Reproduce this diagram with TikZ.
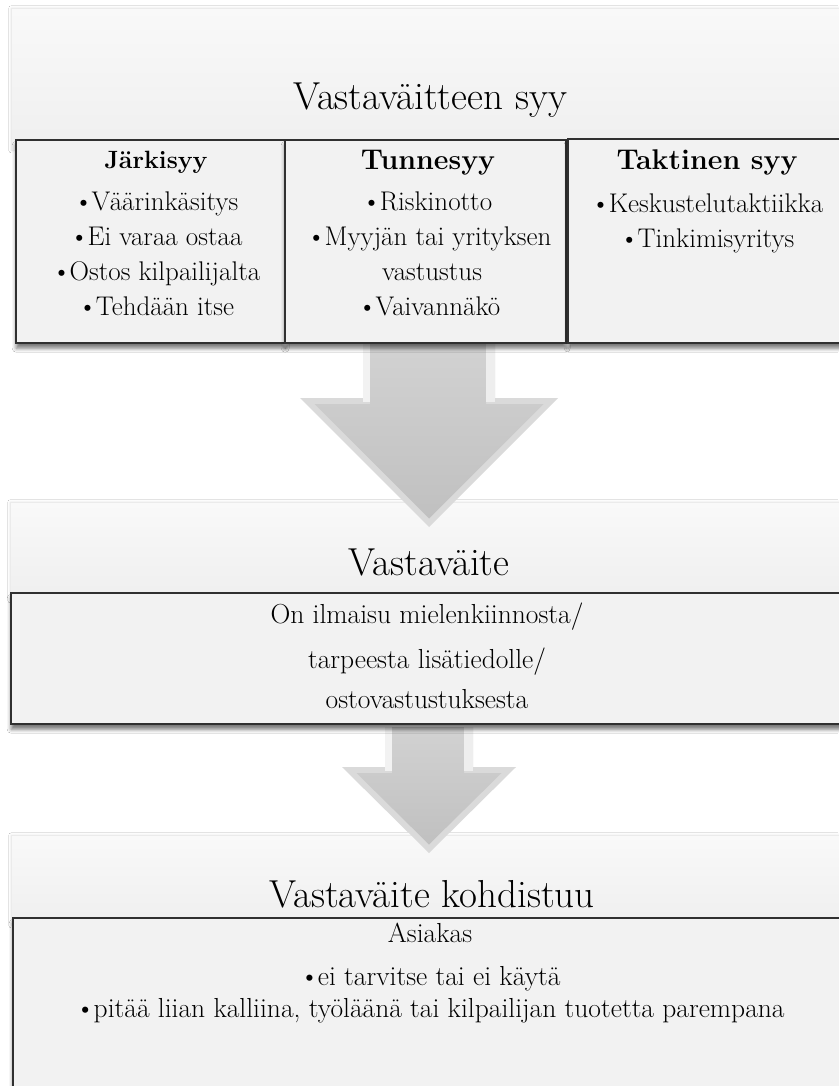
\documentclass[tikz,border=0pt]{standalone}
\usetikzlibrary{calc,shadows.blur}

\definecolor{panelTop}{HTML}{F9F9F9}
\definecolor{panelBot}{HTML}{EFEFEF}
\definecolor{boxFill}{HTML}{F2F2F2}
\definecolor{boxLine}{HTML}{303030}
\definecolor{arrowEdge}{HTML}{DADADA}
\definecolor{arrowTop}{HTML}{D2D2D2}
\definecolor{arrowBot}{HTML}{C0C0C0}
\definecolor{arrowLit}{HTML}{F2F2F2}

% tight bullet in front of an item
\newcommand\bul{\textbullet\kern-1.5pt}

% block arrow: #1 top centre, #2 tip, #3 half shaft, #4 half head, #5 head length
\newcommand\blockarrow[5]{%
  \path let \p1=(#1), \p2=(#2) in
    [fill=arrowEdge]
    (\x1-#3pt,\y1) -- (\x1+#3pt,\y1) -- (\x1+#3pt,\y2+#5pt) -- (\x1+#4pt,\y2+#5pt)
    -- (\x2,\y2) -- (\x1-#4pt,\y2+#5pt) -- (\x1-#3pt,\y2+#5pt) -- cycle;
  \path let \p1=(#1), \p2=(#2) in
    [top color=arrowTop, bottom color=arrowBot]
    (\x1-#3pt+7pt,\y1) -- (\x1+#3pt-9pt,\y1) -- (\x1+#3pt-9pt,\y2+#5pt-6pt)
    -- (\x1+#4pt-14.5pt,\y2+#5pt-6pt) -- (\x2,\y2+8.5pt)
    -- (\x1-#4pt+14.5pt,\y2+#5pt-6pt) -- (\x1-#3pt+7pt,\y2+#5pt-6pt) -- cycle;
  \path let \p1=(#1), \p2=(#2) in
    [fill=arrowLit]
    (\x1-#3pt,\y1) rectangle (\x1-#3pt+7pt,\y2+#5pt-4pt);
  \path let \p1=(#1), \p2=(#2) in
    [fill=white!55!arrowEdge]
    (\x1+#3pt-9pt,\y1) rectangle (\x1+#3pt,\y2+#5pt-4pt);
}

\tikzset{
  panel/.style={anchor=north west, inner sep=0pt, draw=black!8, line width=0.6pt,
    top color=panelTop, bottom color=panelBot,
    blur shadow={shadow xshift=0pt, shadow yshift=0pt, shadow blur radius=2.5pt, shadow opacity=12}},
  frame/.style={anchor=north west, inner sep=0pt, draw=boxLine, line width=2.4pt, fill=boxFill,
    blur shadow={shadow xshift=0pt, shadow yshift=-5pt, shadow blur radius=4pt, shadow opacity=55}},
  headtxt/.style={anchor=base, inner sep=0pt, font=\fontsize{39}{44}\selectfont},
  ttl/.style={anchor=base, inner sep=0pt, font=\fontsize{28.5}{32}\selectfont\bfseries},
  itm/.style={anchor=base, inner sep=0pt, font=\fontsize{27}{30}\selectfont},
  body/.style={anchor=base, inner sep=0pt, font=\fontsize{27.5}{32}\selectfont},
}

\begin{document}
\begin{tikzpicture}[x=1pt, y=-1pt]
\useasboundingbox (0,0) rectangle (838,1086);
\fill[white] (0,0) rectangle (838,1086);

% header bands
\node[panel, minimum width=834pt, minimum height=142pt] (p1) at (11,8) {};
\node[panel, minimum width=835pt, minimum height=98pt]  (p2) at (10,502) {};
\node[panel, minimum width=834pt, minimum height=90pt]  (p3) at (11,835) {};

% arrows between the levels
\coordinate (a1s) at (429,343);
\coordinate (a1t) at (429,527);
\coordinate (a2s) at (429,727);
\coordinate (a2t) at (429,853);
\blockarrow{a1s}{a1t}{66}{129}{129}
\blockarrow{a2s}{a2t}{44}{87}{86}

% content frames
\node[frame, minimum width=269pt, minimum height=203pt] (b1) at (15,139) {};
\node[frame, minimum width=281pt, minimum height=203pt] (b2) at (284,139) {};
\node[frame, minimum width=281pt, minimum height=204pt] (b3) at (567,138) {};
\node[frame, minimum width=838pt, minimum height=131pt] (m)  at (10,592) {};
\node[frame, minimum width=836pt, minimum height=190pt] (c)  at (12,917) {};

% titles
\node[headtxt] (t1) at (430,110) {Vastaväitteen syy};
\node[headtxt] (t2) at (429,575) {Vastaväite};
\node[headtxt] (t3) at (432,907) {Vastaväite kohdistuu};

% first level
\node[ttl, font=\fontsize{25}{30}\selectfont\bfseries] (j0) at (156,168) {Järkisyy};
\node[itm] (j1) at (156,210) {\bul Väärinkäsitys};
\node[itm] (j2) at (156,245) {\bul Ei varaa ostaa};
\node[itm] (j3) at (156,280) {\bul Ostos kilpailijalta};
\node[itm] (j4) at (156,315) {\bul Tehdään itse};

\node[ttl] (u0) at (428,170) {Tunnesyy};
\node[itm] (u1) at (427,210) {\bul Riskinotto};
\node[itm] (u2) at (429,245) {\bul Myyjän tai yrityksen};
\node[itm] (u3) at (432,280) {vastustus};
\node[itm] (u4) at (429,315) {\bul Vaivannäkö};

\node[ttl] (k0) at (707,170) {Taktinen syy};
\node[itm] (k1) at (707,212) {\bul Keskustelutaktiikka};
\node[itm] (k2) at (707,247) {\bul Tinkimisyritys};

% second level
\node[body] (m1) at (427,623) {On ilmaisu mielenkiinnosta/};
\node[body] (m2) at (427,668) {tarpeesta lisätiedolle/};
\node[body] (m3) at (427,708) {ostovastustuksesta};

% third level
\node[body] (c0) at (430,942) {Asiakas};
\node[body] (c1) at (430,985) {\bul ei tarvitse tai ei käytä};
\node[body] (c2) at (430,1017) {\bul pitää liian kalliina, työläänä tai kilpailijan tuotetta parempana};
\end{tikzpicture}
\end{document}
